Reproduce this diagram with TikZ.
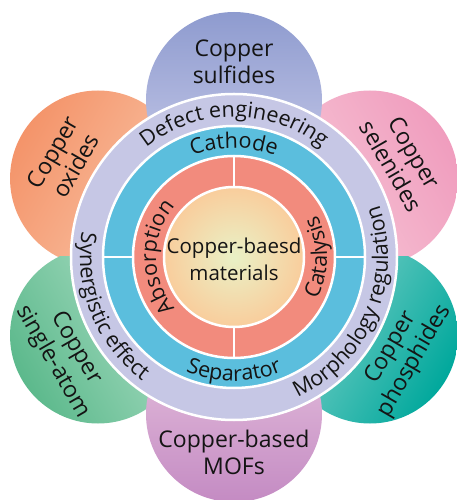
\documentclass[tikz,border=0pt]{standalone}
\usepackage{fontspec}
\setmainfont{Open Sans}
\usetikzlibrary{decorations.text}

% palette
\definecolor{ink}{HTML}{141414}
\definecolor{lavRing}{HTML}{C6C7E5}
\definecolor{blueRing}{HTML}{5BBEDD}
\definecolor{salmonRing}{HTML}{F28B7D}
\definecolor{coreIn}{HTML}{E9F1C6}
\definecolor{coreMid}{HTML}{F9CD9C}
\definecolor{coreOut}{HTML}{F6AE82}
\definecolor{sulfDark}{HTML}{8E9BCF}
\definecolor{sulfLight}{HTML}{CBCDEA}
\definecolor{oxDark}{HTML}{F4946A}
\definecolor{oxLight}{HTML}{F9C4A6}
\definecolor{selDark}{HTML}{F09DBE}
\definecolor{selLight}{HTML}{F7C8D7}
\definecolor{atomDark}{HTML}{5CB98C}
\definecolor{atomLight}{HTML}{AEDFC6}
\definecolor{phosDark}{HTML}{00A89C}
\definecolor{phosLight}{HTML}{84D2CA}
\definecolor{mofDark}{HTML}{C48BC3}
\definecolor{mofLight}{HTML}{E8C5DF}

\pgfdeclareradialshading{coreshade}{\pgfpoint{0bp}{0bp}}{%
  color(0bp)=(coreIn); color(25bp)=(coreMid); color(50bp)=(coreOut)}

\newcommand{\ringfont}{\fontsize{21.5}{21.5}\selectfont}

\tikzset{
  x=1pt, y=1pt,
  petaltext/.style={align=center, text=ink, font=\fontsize{23}{27}\selectfont, inner sep=0pt},
  ringsep/.style={draw=white, line width=2.5pt},
  ringlabel/.style={decorate, decoration={text along path, text align=center, text color=ink, text={|\ringfont|#1}}}
}

\begin{document}
\begin{tikzpicture}
\useasboundingbox (-234,-243) rectangle (222,257);

% side petals, each cut at the horizontal axis
\begin{scope}
  \clip (-240,0) rectangle (0,260);
  \path[top color=oxDark, bottom color=oxLight, shading angle=60] (150:157) circle[radius=88];
\end{scope}
\begin{scope}
  \clip (-240,0) rectangle (0,-260);
  \path[top color=atomDark, bottom color=atomLight, shading angle=120] (210:157) circle[radius=88];
\end{scope}
\begin{scope}
  \clip (0,0) rectangle (240,260);
  \path[top color=selDark, bottom color=selLight, shading angle=-60] (30:157) circle[radius=88];
\end{scope}
\begin{scope}
  \clip (0,0) rectangle (240,-260);
  \path[top color=phosDark, bottom color=phosLight, shading angle=-120] (330:157) circle[radius=88];
\end{scope}

% top and bottom petals
\path[top color=sulfDark, bottom color=sulfLight] (90:157) circle[radius=88];
\path[top color=mofDark, bottom color=mofLight, shading angle=180] (270:157) circle[radius=88];

% concentric rings
\fill[lavRing, ringsep] (0,0) circle[radius=163];
\fill[blueRing, ringsep] (0,0) circle[radius=131];
\fill[salmonRing, ringsep] (0,0) circle[radius=101];
\path[shading=coreshade, ringsep] (0,0) circle[radius=70];

% ring dividers
\draw[white, line width=2.5pt] (-131,0) -- (-101,0) (101,0) -- (131,0);
\draw[white, line width=2.5pt] (0,70) -- (0,101) (0,-70) -- (0,-101);

% core label
\node[align=center, text=ink, font=\fontsize{20.5}{27}\selectfont] (core) at (0,-2) {Copper-baesd\\materials};

% petal labels
\node[petaltext] (sulfides) at (90:195) {Copper\\sulfides};
\node[petaltext, rotate=60] (oxides) at (150:196) {Copper\\oxides};
\node[petaltext, rotate=-60] (selenides) at (30:195) {Copper\\selenides};
\node[petaltext, rotate=-60] (singleatom) at (210:196) {Copper\\single-atom};
\node[petaltext, rotate=60] (phosphides) at (330:195) {Copper\\phosphides};
\node[petaltext] (mofs) at (270:195) {Copper-based\\MOFs};

% outer ring labels
\path[ringlabel={Defect engineering}] (180:140) arc[start angle=180, end angle=0, radius=140];
\path[ringlabel={Morphology regulation}] (-113:154) arc[start angle=-113, end angle=67, radius=154];
\path[ringlabel={Synergistic effect}] (112:154) arc[start angle=112, end angle=292, radius=154];

% middle ring labels
\path[ringlabel={Cathode}] (180:109) arc[start angle=180, end angle=0, radius=109];
\path[ringlabel={Separator}] (180:124) arc[start angle=180, end angle=360, radius=124];

% inner ring labels
\path[ringlabel={Absorption}] (270:78) arc[start angle=270, end angle=90, radius=78];
\path[ringlabel={Catalysis}] (-90:93) arc[start angle=-90, end angle=90, radius=93];
\end{tikzpicture}
\end{document}
